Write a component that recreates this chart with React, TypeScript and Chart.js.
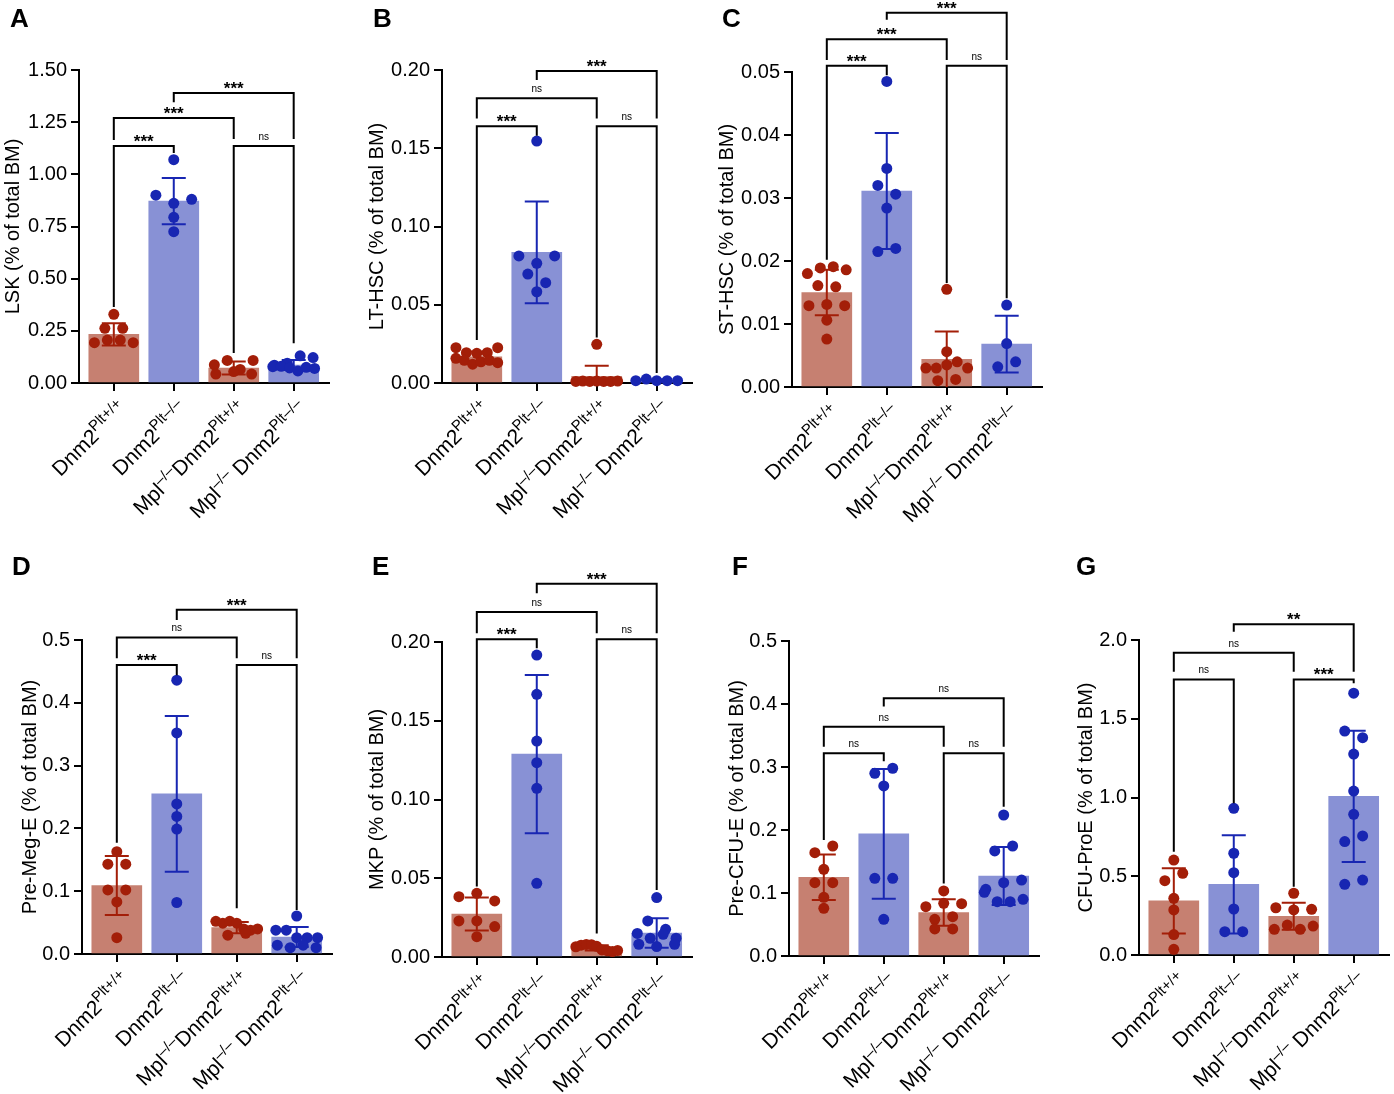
import React, { useEffect, useRef } from 'react';
import { Chart, registerables } from 'chart.js';
Chart.register(...registerables);

const FONT = "'Liberation Sans', Arial, Helvetica, sans-serif";
Chart.defaults.font.family = FONT;

type Seg = { t: string; sup?: boolean };

// Category (x tick) labels
const groupLabels: Seg[][] = [
  [{ t: 'Dnm2' }, { t: 'Plt+/+', sup: true }],
  [{ t: 'Dnm2' }, { t: 'Plt\u2013/\u2013', sup: true }],
  [{ t: 'Mpl' }, { t: '\u2013/\u2013', sup: true }, { t: 'Dnm2' }, { t: 'Plt+/+', sup: true }],
  [{ t: 'Mpl' }, { t: '\u2013/\u2013', sup: true }, { t: ' Dnm2' }, { t: 'Plt\u2013/\u2013', sup: true }],
];

// ---------- Panel A: LSK ----------
const lskTicks = [0, 0.25, 0.5, 0.75, 1.0, 1.25, 1.5];
const lskMean = [0.233, 0.872, 0.072, 0.086];
const lskSD = [0.053, 0.111, 0.031, 0.024];
const lskG1 = [0.329, 0.262, 0.262, 0.193, 0.206, 0.206, 0.193];
const lskG2 = [1.07, 0.9, 0.861, 0.88, 0.794, 0.725];
const lskG3 = [0.087, 0.108, 0.065, 0.108, 0.043, 0.055, 0.043];
const lskG4 = [0.078, 0.08, 0.085, 0.095, 0.13, 0.122, 0.072, 0.058, 0.075, 0.07];
const lskBrackets: [number, number, number, number, number, string][] = [
  [0, 1, 1.136, 0.364, 1.102, '***'],
  [0, 2, 1.27, 1.164, 1.169, '***'],
  [1, 3, 1.39, 1.346, 1.169, '***'],
  [2, 3, 1.136, 0.144, 0.19, 'ns'],
];

// ---------- Panel B: LT-HSC ----------
const ltTicks = [0, 0.05, 0.1, 0.15, 0.2];
const ltMean = [0.0167, 0.0835, 0.0042, 0.0017];
const ltSD = [0.0035, 0.0325, 0.0068, 0.0006];
const ltG1 = [0.0226, 0.0194, 0.019, 0.0194, 0.0226, 0.0158, 0.0145, 0.012, 0.0135, 0.0145, 0.013];
const ltG2 = [0.1546, 0.0812, 0.0765, 0.0812, 0.0696, 0.0641, 0.0583];
const ltG3 = [0.0247, 0.001, 0.0012, 0.001, 0.0012, 0.001, 0.001, 0.0012];
const ltG4 = [0.0015, 0.0025, 0.0015, 0.0015, 0.0015];
const ltBrackets: [number, number, number, number, number, string][] = [
  [0, 1, 0.164, 0.0275, 0.158, '***'],
  [0, 2, 0.182, 0.169, 0.169, 'ns'],
  [1, 3, 0.1994, 0.1936, 0.169, '***'],
  [2, 3, 0.164, 0.029, 0.0064, 'ns'],
];

// ---------- Panel C: ST-HSC ----------
const stTicks = [0, 0.01, 0.02, 0.03, 0.04, 0.05];
const stMean = [0.015, 0.0311, 0.0044, 0.0068];
const stSD = [0.0036, 0.0092, 0.0044, 0.0045];
const stG1 = [0.018, 0.0189, 0.0191, 0.0186, 0.0161, 0.0159, 0.0129, 0.0131, 0.0129, 0.0106, 0.0076];
const stG2 = [0.0485, 0.0347, 0.032, 0.0306, 0.0284, 0.0215, 0.022];
const stG3 = [0.0155, 0.0056, 0.003, 0.003, 0.0035, 0.004, 0.003, 0.001, 0.0012];
const stG4 = [0.013, 0.0069, 0.0032, 0.004];
const stBrackets: [number, number, number, number, number, string][] = [
  [0, 1, 0.051, 0.0202, 0.0495, '***'],
  [0, 2, 0.0552, 0.0519, 0.0519, '***'],
  [1, 3, 0.0594, 0.0583, 0.0519, '***'],
  [2, 3, 0.051, 0.0165, 0.0141, 'ns'],
];

// ---------- Panel D: Pre-Meg-E ----------
const pmTicks = [0, 0.1, 0.2, 0.3, 0.4, 0.5];
const pmMean = [0.109, 0.255, 0.042, 0.027];
const pmSD = [0.047, 0.124, 0.009, 0.016];
const pmG1 = [0.163, 0.143, 0.143, 0.102, 0.102, 0.083, 0.026];
const pmG2 = [0.436, 0.352, 0.239, 0.219, 0.199, 0.082];
const pmG3 = [0.052, 0.049, 0.052, 0.049, 0.04, 0.038, 0.04, 0.03, 0.033];
const pmG4 = [0.0605, 0.038, 0.038, 0.026, 0.026, 0.026, 0.014, 0.01, 0.014, 0.01];
const pmBrackets: [number, number, number, number, number, string][] = [
  [0, 1, 0.46, 0.177, 0.444, '***'],
  [0, 2, 0.504, 0.471, 0.471, 'ns'],
  [1, 3, 0.548, 0.532, 0.471, '***'],
  [2, 3, 0.46, 0.073, 0.07, 'ns'],
];

// ---------- Panel E: MKP ----------
const mkTicks = [0, 0.05, 0.1, 0.15, 0.2];
const mkMean = [0.0273, 0.1288, 0.0058, 0.0152];
const mkSD = [0.0105, 0.0503, 0.0016, 0.0094];
const mkG1 = [0.0383, 0.0404, 0.0356, 0.0229, 0.0229, 0.0193, 0.0129];
const mkG2 = [0.1917, 0.1668, 0.1371, 0.1234, 0.1071, 0.0468];
const mkG3 = [0.0065, 0.0075, 0.008, 0.0078, 0.0068, 0.0045, 0.004, 0.0035, 0.0042];
const mkG4 = [0.0377, 0.0229, 0.0176, 0.015, 0.0119, 0.0144, 0.0081, 0.0119, 0.0066, 0.0081];
const mkBrackets: [number, number, number, number, number, string][] = [
  [0, 1, 0.2017, 0.0447, 0.196, '***'],
  [0, 2, 0.219, 0.2055, 0.2055, 'ns'],
  [1, 3, 0.237, 0.231, 0.2055, '***'],
  [2, 3, 0.2017, 0.015, 0.0425, 'ns'],
];

// ---------- Panel F: Pre-CFU-E ----------
const pcTicks = [0, 0.1, 0.2, 0.3, 0.4, 0.5];
const pcMean = [0.125, 0.194, 0.069, 0.127];
const pcSD = [0.036, 0.103, 0.021, 0.046];
const pcG1 = [0.164, 0.1746, 0.1376, 0.1164, 0.1164, 0.0931, 0.0757];
const pcG2 = [0.29, 0.298, 0.27, 0.1233, 0.1233, 0.0582];
const pcG3 = [0.1032, 0.0783, 0.0836, 0.083, 0.0582, 0.0624, 0.0429, 0.043];
const pcG4 = [0.2238, 0.1667, 0.1746, 0.1058, 0.101, 0.1164, 0.1206, 0.0862, 0.0862, 0.09];
const pcBrackets: [number, number, number, number, number, string][] = [
  [0, 1, 0.322, 0.184, 0.309, 'ns'],
  [0, 2, 0.364, 0.332, 0.332, 'ns'],
  [1, 3, 0.409, 0.396, 0.332, 'ns'],
  [2, 3, 0.322, 0.115, 0.237, 'ns'],
];

// ---------- Panel G: CFU-ProE ----------
const cpTicks = [0, 0.5, 1.0, 1.5, 2.0];
const cpMean = [0.344, 0.448, 0.246, 1.007];
const cpSD = [0.207, 0.312, 0.086, 0.417];
const cpG1 = [0.603, 0.472, 0.519, 0.36, 0.286, 0.13, 0.036];
const cpG2 = [0.931, 0.646, 0.523, 0.292, 0.148, 0.148];
const cpG3 = [0.392, 0.3, 0.286, 0.29, 0.163, 0.19, 0.163, 0.184];
const cpG4 = [1.662, 1.422, 1.38, 1.276, 1.041, 0.893, 0.72, 0.756, 0.449, 0.476];
const cpBrackets: [number, number, number, number, number, string][] = [
  [0, 1, 1.75, 0.656, 0.963, 'ns'],
  [0, 2, 1.919, 1.799, 1.799, 'ns'],
  [1, 3, 2.1, 2.053, 1.799, '**'],
  [2, 3, 1.75, 0.434, 1.725, '***'],
];

// ---------- styles ----------
const BAR_COLORS = ['rgb(198,128,113)', 'rgb(136,145,213)', 'rgb(198,128,113)', 'rgb(136,145,213)'];
const DOT_COLORS = ['rgb(163,30,8)', 'rgb(24,38,178)', 'rgb(163,30,8)', 'rgb(24,38,178)'];

interface PanelDef {
  letter: string;
  title: string;
  mean: number[];
  sd: number[];
  groups: number[][];
  ticks: number[];
  dec: number;
  brackets: [number, number, number, number, number, string][];
}
interface Layout {
  axisX: number; yTop: number; yBottom: number; T: number; H: number;
  letterX: number; letterY: number; titleOffset: number;
}

const panels: PanelDef[] = [
  { letter: 'A', title: 'LSK (% of total BM)', mean: lskMean, sd: lskSD, groups: [lskG1, lskG2, lskG3, lskG4], ticks: lskTicks, dec: 2, brackets: lskBrackets },
  { letter: 'B', title: 'LT-HSC (% of total BM)', mean: ltMean, sd: ltSD, groups: [ltG1, ltG2, ltG3, ltG4], ticks: ltTicks, dec: 2, brackets: ltBrackets },
  { letter: 'C', title: 'ST-HSC (% of total BM)', mean: stMean, sd: stSD, groups: [stG1, stG2, stG3, stG4], ticks: stTicks, dec: 2, brackets: stBrackets },
  { letter: 'D', title: 'Pre-Meg-E (% of total BM)', mean: pmMean, sd: pmSD, groups: [pmG1, pmG2, pmG3, pmG4], ticks: pmTicks, dec: 1, brackets: pmBrackets },
  { letter: 'E', title: 'MKP (% of total BM)', mean: mkMean, sd: mkSD, groups: [mkG1, mkG2, mkG3, mkG4], ticks: mkTicks, dec: 2, brackets: mkBrackets },
  { letter: 'F', title: 'Pre-CFU-E (% of total BM)', mean: pcMean, sd: pcSD, groups: [pcG1, pcG2, pcG3, pcG4], ticks: pcTicks, dec: 1, brackets: pcBrackets },
  { letter: 'G', title: 'CFU-ProE (% of total BM)', mean: cpMean, sd: cpSD, groups: [cpG1, cpG2, cpG3, cpG4], ticks: cpTicks, dec: 1, brackets: cpBrackets },
];

const layouts: Layout[] = [
  { axisX: 79, yTop: 70, yBottom: 383, T: 0, H: 530, letterX: 10, letterY: 27, titleOffset: 66 },
  { axisX: 442, yTop: 70, yBottom: 383, T: 0, H: 530, letterX: 373, letterY: 27, titleOffset: 65 },
  { axisX: 792, yTop: 72, yBottom: 387, T: 0, H: 530, letterX: 722, letterY: 27, titleOffset: 65 },
  { axisX: 82, yTop: 640, yBottom: 954, T: 540, H: 554, letterX: 12, letterY: 575, titleOffset: 52 },
  { axisX: 442, yTop: 642, yBottom: 957, T: 540, H: 554, letterX: 372, letterY: 575, titleOffset: 65 },
  { axisX: 789, yTop: 641, yBottom: 956, T: 540, H: 554, letterX: 732, letterY: 575, titleOffset: 52 },
  { axisX: 1139, yTop: 640, yBottom: 955, T: 540, H: 554, letterX: 1076, letterY: 575, titleOffset: 53 },
];

const CW = 334; // canvas width
const AX = 79; // local x of y axis
const PW = 251; // plot width
const CAT = 60.3; // px per category
const X_MIN = -35 / CAT;
const X_MAX = 3 + 35 / CAT;

// GraphPad-like horizontal spreading of overlapping dots (layout only)
function spreadPoints(vals: number[], pxPerY: number, xPerPx: number, g: number) {
  const order = vals.map((_, i) => i).sort((a, b) => vals[b] - vals[a]);
  const rows: { start: number; items: number[] }[] = [];
  let cur: { start: number; items: number[] } | null = null;
  for (const i of order) {
    if (cur && (vals[cur.start] - vals[i]) * pxPerY < 10) cur.items.push(i);
    else { cur = { start: i, items: [i] }; rows.push(cur); }
  }
  const out: { x: number; y: number }[] = [];
  for (const r of rows) {
    const items = r.items.slice().sort((a, b) => a - b);
    const n = items.length;
    const sp = n <= 1 ? 0 : Math.min(n <= 3 ? 18 : 13, 42 / (n - 1));
    items.forEach((i, k) => out.push({ x: g + (k - (n - 1) / 2) * sp * xPerPx, y: vals[i] }));
  }
  return out;
}

function Panel({ p, lay }: { p: PanelDef; lay: Layout }) {
  const ref = useRef<HTMLCanvasElement | null>(null);
  useEffect(() => {
    const canvas = ref.current!;
    const yMax = p.ticks[p.ticks.length - 1];
    const pxPerY = (lay.yBottom - lay.yTop) / yMax;
    const xPerPx = (X_MAX - X_MIN) / PW;
    const pts: { x: number; y: number }[] = [];
    const cols: string[] = [];
    p.groups.forEach((vals, g) => {
      spreadPoints(vals, pxPerY, xPerPx, g).forEach((pt) => { pts.push(pt); cols.push(DOT_COLORS[g]); });
    });
    const yW = lay.titleOffset + 12;
    const xH = 10;
    const canvasLeft = lay.axisX - AX;

    const decor = {
      id: 'decor',
      afterDatasetDraw(chart: any, args: any) {
        if (args.index !== 0) return;
        const ctx = chart.ctx;
        const xs = chart.scales.x, ys = chart.scales.y;
        ctx.save();
        ctx.lineWidth = 2;
        p.mean.forEach((m, i) => {
          const px = xs.getPixelForValue(i);
          const hi = ys.getPixelForValue(m + p.sd[i]);
          const loV = m - p.sd[i];
          const lo = ys.getPixelForValue(Math.max(loV, 0));
          ctx.strokeStyle = DOT_COLORS[i];
          ctx.beginPath();
          ctx.moveTo(px, hi); ctx.lineTo(px, lo);
          ctx.moveTo(px - 12, hi); ctx.lineTo(px + 12, hi);
          if (loV > 0) { ctx.moveTo(px - 12, lo); ctx.lineTo(px + 12, lo); }
          ctx.stroke();
        });
        ctx.restore();
      },
      afterDraw(chart: any) {
        const ctx = chart.ctx;
        const xs = chart.scales.x, ys = chart.scales.y;
        const base = chart.chartArea.bottom;
        ctx.save();
        // significance brackets
        ctx.strokeStyle = '#000';
        ctx.fillStyle = '#000';
        ctx.lineWidth = 2;
        ctx.lineJoin = 'miter';
        p.brackets.forEach(([a, b, top, l, r, label]) => {
          const x1 = xs.getPixelForValue(a), x2 = xs.getPixelForValue(b);
          const yt = ys.getPixelForValue(top);
          ctx.beginPath();
          ctx.moveTo(x1, ys.getPixelForValue(l));
          ctx.lineTo(x1, yt);
          ctx.lineTo(x2, yt);
          ctx.lineTo(x2, ys.getPixelForValue(r));
          ctx.stroke();
          ctx.textAlign = 'center';
          ctx.textBaseline = 'alphabetic';
          if (label === 'ns') {
            ctx.font = `10px ${FONT}`;
            ctx.fillText(label, (x1 + x2) / 2, yt - 6);
          } else {
            ctx.font = `bold 17px ${FONT}`;
            ctx.fillText(label, (x1 + x2) / 2, yt + 1);
          }
        });
        // category labels (rotated, with superscripts)
        ctx.textAlign = 'left';
        ctx.textBaseline = 'alphabetic';
        groupLabels.forEach((segs, i) => {
          const px = xs.getPixelForValue(i);
          const fonts = segs.map((s) => (s.sup ? `15px ${FONT}` : `21px ${FONT}`));
          const widths = segs.map((s, k) => { ctx.font = fonts[k]; return ctx.measureText(s.t).width; });
          const total = widths.reduce((s, w) => s + w, 0);
          ctx.save();
          ctx.translate(px + 14, base + 27);
          ctx.rotate(-Math.PI / 4);
          let x = -total;
          segs.forEach((s, k) => {
            ctx.font = fonts[k];
            ctx.fillText(s.t, x, s.sup ? -8 : 0);
            x += widths[k];
          });
          ctx.restore();
        });
        // panel letter
        ctx.font = `bold 26px ${FONT}`;
        ctx.textAlign = 'left';
        ctx.fillText(p.letter, lay.letterX - canvasLeft, lay.letterY - lay.T);
        ctx.restore();
      },
    };

    const chart = new Chart(canvas, {
      type: 'bar',
      data: {
        datasets: [
          {
            type: 'bar',
            data: p.mean.map((m, i) => ({ x: i, y: m })),
            backgroundColor: BAR_COLORS,
            borderWidth: 0,
            barThickness: 50,
            order: 2,
          } as any,
          {
            type: 'scatter',
            data: pts,
            pointBackgroundColor: cols,
            pointBorderWidth: 0,
            pointRadius: 5.5,
            showLine: false,
            clip: false,
            order: 1,
          } as any,
        ],
      },
      options: {
        animation: false,
        responsive: false,
        events: [],
        layout: {
          padding: {
            left: AX - yW,
            top: lay.yTop - lay.T,
            right: CW - AX - PW,
            bottom: lay.H - (lay.yBottom - lay.T) - xH,
          },
        },
        plugins: { legend: { display: false }, tooltip: { enabled: false } },
        scales: {
          x: {
            type: 'linear',
            offset: false,
            min: X_MIN,
            max: X_MAX,
            afterBuildTicks: (s: any) => { s.ticks = [0, 1, 2, 3].map((v) => ({ value: v })); },
            ticks: { display: false },
            grid: { offset: false, drawOnChartArea: false, drawTicks: true, tickLength: 8, color: '#000', lineWidth: 2 },
            border: { display: true, color: '#000', width: 2 },
            afterFit: (s: any) => { s.height = xH; },
          },
          y: {
            type: 'linear',
            min: 0,
            max: yMax,
            afterBuildTicks: (s: any) => { s.ticks = p.ticks.map((v) => ({ value: v })); },
            ticks: {
              color: '#000',
              font: { size: 20 },
              padding: 4,
              callback: (v: any) => Number(v).toFixed(p.dec),
            },
            grid: { drawOnChartArea: false, drawTicks: true, tickLength: 8, color: '#000', lineWidth: 2 },
            border: { display: true, color: '#000', width: 2 },
            title: { display: true, text: p.title, color: '#000', font: { size: 20 }, padding: 0 },
            afterFit: (s: any) => { s.width = yW; },
          },
        },
      } as any,
      plugins: [decor],
    });
    return () => chart.destroy();
  }, []);
  return (
    <canvas
      ref={ref}
      width={CW}
      height={lay.H}
      style={{ position: 'absolute', left: lay.axisX - AX, top: lay.T, width: CW, height: lay.H, display: 'block' }}
    />
  );
}

export default function App() {
  return (
    <div style={{ position: 'absolute', left: 0, top: 0, width: 1394, height: 1094, overflow: 'hidden', background: '#fff' }}>
      {panels.map((p, i) => (
        <Panel key={p.letter} p={p} lay={layouts[i]} />
      ))}
    </div>
  );
}
